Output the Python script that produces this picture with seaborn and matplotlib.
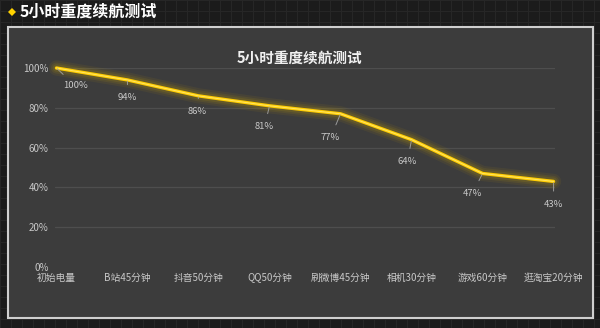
import matplotlib
matplotlib.use("Agg")
import matplotlib.pyplot as plt
import seaborn as sns
import pandas as pd
from matplotlib.patches import Rectangle, Polygon
from matplotlib.lines import Line2D

# Battery test data
stages = ["初始电量", "B站45分钟", "抖音50分钟", "QQ50分钟", "刷微博45分钟", "相机30分钟", "游戏60分钟", "逛淘宝20分钟"]
battery = [100, 94, 86, 81, 77, 64, 47, 43]
y_ticks = [0, 20, 40, 60, 80, 100]
title = "5小时重度续航测试"

# label offsets in pixels (dx, dy) relative to each point
label_offsets = [(19, -18), (0, -18), (-1, -16), (-5, -21), (-10, -24), (-4, -22), (-10, -20), (0, -23)]

df = pd.DataFrame({"stage": stages, "pos": range(len(stages)), "battery": battery})

sns.set_theme(style="dark")
plt.rcParams["font.family"] = ["Noto Sans CJK SC", "DejaVu Sans"]

W, H = 600, 328
fig = plt.figure(figsize=(6, 3.28), dpi=100, facecolor="#1b1b1b")

# background grid texture
for x in range(0, W, 11):
    fig.add_artist(Line2D([x / W, x / W], [0, 1], color="#262626", lw=0.8, zorder=0))
for y in range(0, H, 11):
    fig.add_artist(Line2D([0, 1], [1 - y / H, 1 - y / H], color="#262626", lw=0.8, zorder=0))

# panel
px0, py0, px1, py1 = 8, 27, 593, 318
fig.add_artist(Rectangle((px0 / W, 1 - py1 / H), (px1 - px0) / W, (py1 - py0) / H,
                         facecolor="#3c3c3c", edgecolor="#cfcfcf", lw=1.5, zorder=1))

# header
cx, cy, r = 12, 12, 4
fig.add_artist(Polygon([((cx) / W, 1 - (cy - r) / H), ((cx + r) / W, 1 - cy / H),
                        ((cx) / W, 1 - (cy + r) / H), ((cx - r) / W, 1 - cy / H)],
                       closed=True, facecolor="#ffd200", edgecolor="none", zorder=2))
fig.text(20 / W, 1 - 12 / H, title, color="white", fontsize=11.5, fontweight="bold",
         ha="left", va="center", zorder=2)

# axes
ax_l, ax_r = 55, 555
ax_t, ax_b = 68, 267
ax = fig.add_axes([ax_l / W, 1 - ax_b / H, (ax_r - ax_l) / W, (ax_b - ax_t) / H])
ax.set_facecolor("none")
ax.set_zorder(3)
ax.set_xlim(-0.02, len(stages) - 1 + 0.02)
ax.set_ylim(0, 100)

# gridlines
for t in y_ticks[1:]:
    ax.axhline(t, color="#4e4e4e", lw=0.9, zorder=1)

# glow around the line
for lw, a in [(11, 0.10), (8, 0.14), (5.5, 0.2)]:
    ax.plot(df["pos"], df["battery"], color="#a88a10", lw=lw, alpha=a,
            solid_joinstyle="round", solid_capstyle="round", clip_on=False, zorder=2)

sns.lineplot(data=df, x="pos", y="battery", ax=ax, color="#ffcc00", lw=2.4,
             zorder=4, clip_on=False, solid_joinstyle="round")
ax.plot(df["pos"], df["battery"], color="#ffe45c", lw=0.8, zorder=5, clip_on=False)

# value labels with leader lines
for i, (v, (dx, dy)) in enumerate(zip(battery, label_offsets)):
    ax.annotate(f"{v}%", xy=(i, v), xytext=(dx, dy), textcoords="offset pixels",
                ha="center", va="center", fontsize=6.8, color="#c8c8c8",
                arrowprops=dict(arrowstyle="-", color="#9a9a9a", lw=0.7,
                                shrinkA=4, shrinkB=1),
                annotation_clip=False, zorder=6)

ax.set_yticks(y_ticks)
ax.set_yticklabels([f"{t}%" for t in y_ticks])
ax.set_xticks(range(len(stages)))
ax.set_xticklabels(stages)
ax.tick_params(axis="y", colors="#c8c8c8", labelsize=7, length=0, pad=4.5)
ax.tick_params(axis="x", colors="#c8c8c8", labelsize=7, length=0, pad=10)
for lab in ax.get_yticklabels() + ax.get_xticklabels():
    lab.set_color("#c8c8c8")
for lab in ax.get_xticklabels():
    lab.set_verticalalignment("baseline")
ax.set_xlabel("")
ax.set_ylabel("")
for s in ax.spines.values():
    s.set_visible(False)
ax.grid(False)

# chart title
fig.text(299 / W, 1 - 58 / H, title, color="#f0f0f0", fontsize=10.5, fontweight="bold",
         ha="center", va="center", zorder=4)

fig.savefig("out.png", dpi=100, facecolor=fig.get_facecolor())
